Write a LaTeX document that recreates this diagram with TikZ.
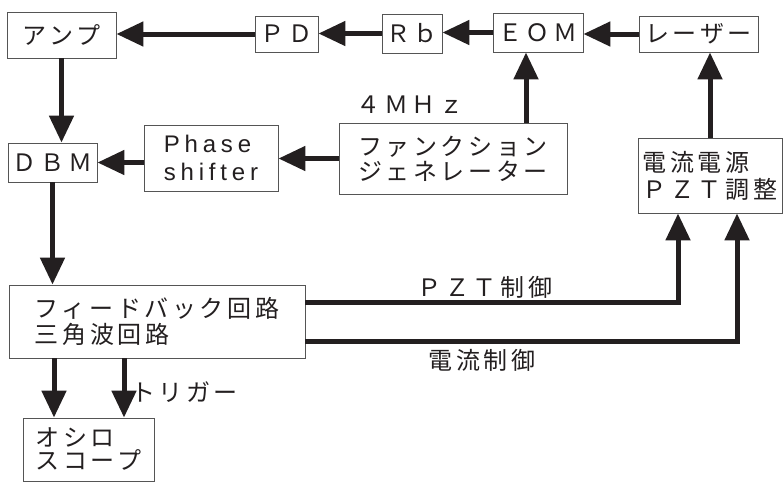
\documentclass[tikz,border=0pt]{standalone}
\usepackage{fontspec}
\setmainfont{Noto Sans CJK JP}[LetterSpace=15]
\newfontfamily\latinf{Liberation Sans}[LetterSpace=20]
\usetikzlibrary{arrows.meta}
\definecolor{ink}{HTML}{231F20}
\definecolor{boxgray}{HTML}{555555}
\begin{document}
\begin{tikzpicture}[x=1pt,y=-1pt,
  box/.style={draw=boxgray, line width=0.9pt, inner sep=0pt, align=center, text=ink,
    font=\fontsize{24}{26}\selectfont},
  arr/.style={draw=ink, line width=5pt, line join=miter,
    -{Triangle[length=27pt,width=24pt]}},
  lbl/.style={text=ink, inner sep=0pt, font=\fontsize{24}{26}\selectfont}]
\fill[white] (0,0) rectangle (783,483);
\useasboundingbox (0,0) rectangle (783,483);
% boxes
\node[box, minimum width=109pt, minimum height=46pt] (amp) at (61.5,35) {アンプ};
\node[box, minimum width=63pt, minimum height=36pt] (pd) at (286.5,34) {Ｐ\,Ｄ};
\node[box, minimum width=60pt, minimum height=39pt] (rb) at (412,33.5) {Ｒｂ};
\node[box, minimum width=90pt, minimum height=39pt] (eom) at (538,32.5) {ＥＯＭ};
\node[box, minimum width=119pt, minimum height=36pt] (laser) at (698.5,34) {レーザー};
\node[box, minimum width=134pt, minimum height=66pt, align=left,
  font=\latinf\fontsize{24}{28}\selectfont] (phase) at (211,158) {Phase\\shifter};
\node[box, minimum width=89pt, minimum height=39pt] (dbm) at (52.5,162.5) {ＤＢＭ};
\node[box, minimum width=228pt, minimum height=71pt, align=left,
  font=\fontsize{24}{25}\selectfont] (fg) at (453,158.5) {ファンクション\\ジェネレーター};
\node[box, minimum width=144pt, minimum height=75pt, align=left,
  font=\fontsize{24}{27}\selectfont] (psu) at (710,175.5) {電流電源\\ＰＺＴ調整};
\node[box, minimum width=296pt, minimum height=73pt, align=left,
  font=\fontsize{24}{26}\selectfont] (fb) at (157,321.5) {フィードバック回路\\三角波回路};
\node[box, minimum width=131pt, minimum height=63pt, align=left,
  font=\fontsize{24}{23}\selectfont] (osc) at (88.5,449.5) {オシロ\\スコープ};
% labels
\node[lbl] (mhz) at (410,105) {４ＭＨｚ};
\node[lbl] (pztlbl) at (485,287) {ＰＺＴ制御};
\node[lbl] (curlbl) at (482,360) {電流制御};
\node[lbl, anchor=west] (trig) at (131,392) {トリガー};
% helper coordinates
\coordinate (xfe) at (526,0);
\coordinate (xpz) at (678,302);
\coordinate (xcu) at (737,341);
\coordinate (xo1) at (54,0);
\coordinate (xo2) at (124,0);
% connectors
\draw[arr] (pd.west) -- (pd.west -| amp.east);
\draw[arr] (rb.west) -- (rb.west -| pd.east);
\draw[arr] (eom.west) -- (eom.west -| rb.east);
\draw[arr] (laser.west) -- (laser.west -| eom.east);
\draw[arr] (fg.north -| xfe) -- (eom.south -| xfe);
\draw[arr] (psu.north) -- (psu.north |- laser.south);
\draw[arr] (amp.south) -- (amp.south |- dbm.north);
\draw[arr] (phase.west |- dbm.east) -- (dbm.east);
\draw[arr] (fg.west) -- (fg.west -| phase.east);
\draw[arr] (dbm.south) -- (dbm.south |- fb.north);
\draw[arr] (fb.south -| xo1) -- (osc.north -| xo1);
\draw[arr] (fb.south -| xo2) -- (osc.north -| xo2);
\draw[arr] (fb.east |- xpz) -| (psu.south -| xpz);
\draw[arr] (fb.east |- xcu) -| (psu.south -| xcu);
\end{tikzpicture}
\end{document}
